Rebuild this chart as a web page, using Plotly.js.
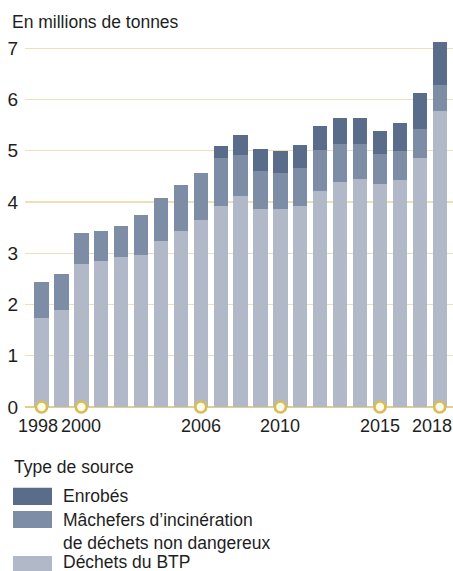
<!DOCTYPE html>
<html>
<head>
<meta charset="utf-8">
<script src="https://cdn.plot.ly/plotly-3.0.1.min.js"></script>
<style>html,body{margin:0;padding:0;background:#fff;}#chart{width:453px;height:571px;}</style>
</head>
<body>
<div id="chart"></div>
<script>
// Data (millions of tonnes)
const years = [1998,1999,2000,2001,2002,2003,2004,2005,2006,2007,2008,2009,2010,2011,2012,2013,2014,2015,2016,2017,2018];
const dechetsBTP = [1.74,1.89,2.80,2.84,2.93,2.97,3.24,3.43,3.64,3.92,4.12,3.87,3.87,3.93,4.21,4.40,4.44,4.35,4.42,4.86,5.78];
const machefers  = [0.69,0.71,0.59,0.60,0.61,0.78,0.84,0.91,0.92,0.93,0.79,0.74,0.69,0.74,0.81,0.74,0.70,0.59,0.57,0.56,0.50];
const enrobes    = [0,0,0,0,0,0,0,0,0,0.24,0.39,0.42,0.44,0.45,0.46,0.50,0.50,0.44,0.55,0.70,0.84];
const seriesNames = ["Enrobés", "Mâchefers d’incinération<br>de déchets non dangereux", "Déchets du BTP"];
const seriesColors = ["#596c8a", "#7c8da5", "#b1b9c9"];
const tickYears = [1998, 2000, 2006, 2010, 2015, 2018];
const tickLabels = ["1998", "2000", "2006", "2010", "2015", "2018"];
const yTicks = [0,1,2,3,4,5,6,7];
const yTitle = "En millions de tonnes";
const legendTitle = "Type de source";

const FONT = "'Liberation Sans', Arial, sans-serif";
const TXT = "#1e1e1e";

const traces = [
  {type:'bar', x: years, y: dechetsBTP, name: seriesNames[2], marker:{color: seriesColors[2]}, showlegend:false, hoverinfo:'none'},
  {type:'bar', x: years, y: machefers, name: seriesNames[1], marker:{color: seriesColors[1]}, showlegend:false, hoverinfo:'none'},
  {type:'bar', x: years, y: enrobes, name: seriesNames[0], marker:{color: seriesColors[0]}, showlegend:false, hoverinfo:'none'},
  {type:'scatter', mode:'markers', x: tickYears, y: tickYears.map(() => 0), cliponaxis:false, showlegend:false, hoverinfo:'none',
   marker:{symbol:'circle', size:11, color:'#fffbea', line:{color:'#d8bd55', width:2.6}}}
];

const PH = 368.7, Y0 = 406.7, PL = 25, PW = 428;
const shapes = [];
const annotations = [];

// X tick labels (placed at the tick years on the x axis; edge labels nudged inward as in the reference)
const labelShift = {1998: -4, 2018: -8};
tickYears.forEach((yr, i) => {
  annotations.push({xref:'x', yref:'paper', x: yr, y: (Y0 - 426)/PH, text: tickLabels[i], showarrow:false,
    xanchor:'center', yanchor:'middle', xshift: labelShift[yr] || 0,
    font:{family:FONT, size:18, color:TXT}});
});

// Legend built from series names/colors (swatch + label)
const legendRows = [496, 519, 562];
const swatchRows = [496, 519, 564];
annotations.push({xref:'paper', yref:'paper', x: (12-PL)/PW, y: (Y0-467)/PH, text: legendTitle, showarrow:false,
  xanchor:'left', yanchor:'middle', font:{family:FONT, size:17.5, color:TXT}});
seriesNames.forEach((n, i) => {
  const yc = legendRows[i];
  const sc = swatchRows[i];
  shapes.push({type:'rect', xref:'paper', yref:'paper', x0: (13-PL)/PW, x1: (52-PL)/PW,
    y0: (Y0-(sc-8.5))/PH, y1: (Y0-(sc+8.5))/PH, fillcolor: seriesColors[i], line:{width:0}});
  annotations.push({xref:'paper', yref:'paper', x: (61-PL)/PW, y: (Y0 - yc)/PH, text: n, showarrow:false,
    xanchor:'left', yanchor: (i === 1 ? 'top' : 'middle'), align:'left',
    yshift: (i === 1 ? 11 : 0),
    font:{family:FONT, size:17.5, color:TXT}});
});

const layout = {
  width: 453, height: 571,
  margin: {l: PL, r: 0, t: 38, b: 164.3},
  paper_bgcolor: '#fff', plot_bgcolor: '#fff',
  barmode: 'stack', bargap: 0.28,
  font: {family: FONT, color: TXT, size: 17.5},
  title: {text: yTitle, x: 12/453, xref:'container', xanchor:'left', y: 1 - 22/571, yref:'container', yanchor:'middle',
    font:{family:FONT, size:17.5, color:TXT}},
  xaxis: {range:[1997.17, 2018.67], tickmode:'array', tickvals: tickYears, showticklabels:false,
    showgrid:false, zeroline:false, showline:false, ticks:'', fixedrange:true},
  yaxis: {range:[0, 7.2], tickmode:'array', tickvals: yTicks, showgrid:true, gridcolor:'#eedfb6', gridwidth:1.2,
    zeroline:true, zerolinecolor:'#e3cf8c', zerolinewidth:1.2, showline:false, ticks:'', ticklabelstandoff:6,
    tickfont:{family:FONT, size:19, color:TXT}, fixedrange:true},
  shapes: shapes,
  annotations: annotations,
  showlegend: false
};

Plotly.newPlot('chart', traces, layout, {displayModeBar:false, staticPlot:true});
</script>
</body>
</html>
